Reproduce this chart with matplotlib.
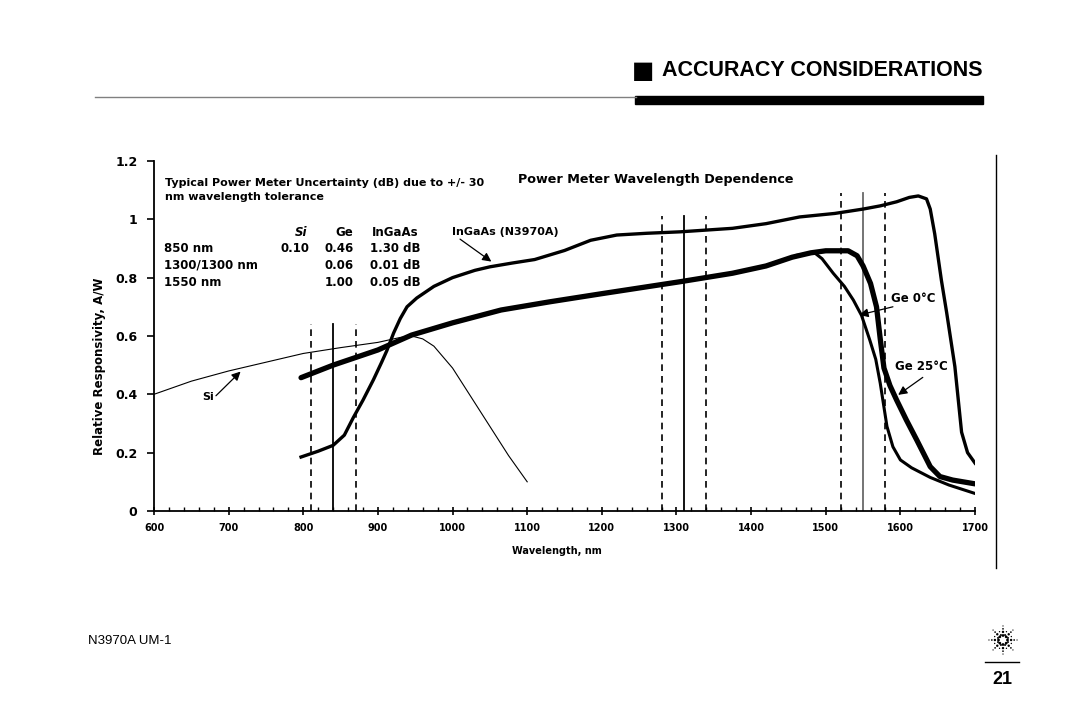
import matplotlib
matplotlib.use("Agg")
import matplotlib.pyplot as plt
from matplotlib.lines import Line2D
from matplotlib.patches import Rectangle
from matplotlib.ticker import MultipleLocator
import numpy as np

plt.rcParams['font.family'] = ['Liberation Sans', 'DejaVu Sans']
CH = 'DejaVu Sans'  # chart text: wide heavy face like the scan

# --- data ---
si_wl = [600, 650, 700, 750, 800, 850, 900, 930, 945, 960, 975, 1000, 1025, 1050, 1075, 1100]
si_resp = [0.40, 0.445, 0.48, 0.51, 0.54, 0.56, 0.578, 0.595, 0.60, 0.59, 0.565, 0.49, 0.39, 0.29, 0.19, 0.10]

ge25_wl = [797, 840, 900, 945, 1000, 1065, 1130, 1200, 1305, 1375, 1420, 1455, 1480, 1500, 1530,
           1542, 1550, 1560, 1568, 1573, 1578, 1586, 1595, 1608, 1622, 1640, 1653, 1670, 1700]
ge25_resp = [0.457, 0.50, 0.552, 0.603, 0.645, 0.689, 0.717, 0.745, 0.786, 0.815, 0.84, 0.87, 0.885,
             0.892, 0.892, 0.875, 0.84, 0.78, 0.70, 0.59, 0.49, 0.43, 0.38, 0.312, 0.243, 0.152,
             0.118, 0.106, 0.093]

ge0_wl = [1460, 1485, 1495, 1510, 1525, 1537, 1548, 1559, 1567, 1573, 1582, 1590, 1600, 1615, 1640,
          1665, 1700]
ge0_resp = [0.876, 0.885, 0.865, 0.815, 0.77, 0.723, 0.67, 0.586, 0.52, 0.438, 0.29, 0.22, 0.175,
            0.148, 0.115, 0.089, 0.06]

ingaas_wl = [797, 820, 840, 855, 867, 880, 894, 905, 912, 921, 930, 939, 952, 975, 1000, 1030, 1050,
             1080, 1110, 1150, 1185, 1220, 1260, 1305, 1375, 1420, 1465, 1512, 1550, 1573, 1595, 1612,
             1624, 1635, 1640, 1646, 1655, 1662, 1673, 1682, 1690, 1700]
ingaas_resp = [0.185, 0.205, 0.225, 0.26, 0.32, 0.38, 0.45, 0.51, 0.55, 0.61, 0.66, 0.70, 0.73, 0.77,
               0.80, 0.825, 0.837, 0.85, 0.862, 0.893, 0.928, 0.946, 0.952, 0.957, 0.969, 0.985,
               1.008, 1.02, 1.035, 1.046, 1.06, 1.075, 1.08, 1.07, 1.035, 0.95, 0.79, 0.68,
               0.495, 0.27, 0.20, 0.164]

# +/- 30 nm markers around 840, 1310, 1550
center_wl = [840, 1310, 1550]
marker_top = [0.64, 1.01, 1.09]
tolerance = 30

table_rows = ["850 nm", "1300/1300 nm", "1550 nm"]
table_si = ["0.10", "", ""]
table_ge = ["0.46", "0.06", "1.00"]
table_ingaas = ["1.30 dB", "0.01 dB", "0.05 dB"]

fig = plt.figure(figsize=(10.8, 7.09), dpi=100)
ax = fig.add_axes([0.1426, 0.2793, 0.7602, 0.4937])
ax.set_xlim(600, 1700)
ax.set_ylim(0, 1.2)

for c, top in zip(center_wl, marker_top):
    ax.plot([c - tolerance] * 2, [0, top], color='black', lw=1.2, ls=(0, (4, 3)))
    ax.plot([c + tolerance] * 2, [0, top], color='black', lw=1.2, ls=(0, (4, 3)))
    ax.plot([c] * 2, [0, top], color='dimgray' if c == 1550 else 'black', lw=1.3)

ax.plot(si_wl, si_resp, color='black', lw=0.8)
ax.plot(ingaas_wl, ingaas_resp, color='black', lw=2.4, solid_joinstyle='round')
ax.plot(ge0_wl, ge0_resp, color='black', lw=2.2, solid_joinstyle='round')
ax.plot(ge25_wl, ge25_resp, color='black', lw=3.8, solid_joinstyle='round', solid_capstyle='round')

for s in ['top', 'right']:
    ax.spines[s].set_visible(False)
ax.spines['left'].set_linewidth(1.3)
ax.spines['bottom'].set_linewidth(1.3)

ax.xaxis.set_major_locator(MultipleLocator(100))
ax.xaxis.set_minor_locator(MultipleLocator(20))
ax.set_yticks([0, 0.2, 0.4, 0.6, 0.8, 1.0, 1.2])
ax.set_yticklabels(["0", "0.2", "0.4", "0.6", "0.8", "1", "1.2"])
ax.tick_params(axis='x', which='major', direction='inout', length=6, width=1.2, labelsize=7, pad=6)
ax.tick_params(axis='x', which='minor', direction='in', length=3, width=1)
ax.tick_params(axis='y', which='major', direction='out', length=5, width=1.2, labelsize=9, pad=7)
for lab in ax.get_xticklabels() + ax.get_yticklabels():
    lab.set_fontweight('bold')
    lab.set_family(CH)

ax.set_xlabel("Wavelength, nm", fontsize=7, fontweight='bold', family=CH)
ax.xaxis.set_label_coords(0.491, -0.10)
ax.set_ylabel("Relative Responsivity, A/W", fontsize=8.5, fontweight='bold', family=CH)
ax.yaxis.set_label_coords(-0.058, 0.414)

fs = 8.0
tfs = 8.5
ax.text(1088, 1.135, "Power Meter Wavelength Dependence", fontsize=9.2, fontweight='bold',
        family=CH, ha='left', va='center')
ax.text(615, 1.10, "Typical Power Meter Uncertainty (dB) due to +/- 30\nnm wavelength tolerance",
        fontsize=fs, fontweight='bold', family=CH, ha='left', va='center', linespacing=1.5)

hdr_y = 0.956
ax.text(806, hdr_y, "Si", fontsize=tfs, fontweight='bold', style='italic', family=CH, ha='right', va='center')
ax.text(867, hdr_y, "Ge", fontsize=tfs, fontweight='bold', family=CH, ha='right', va='center')
ax.text(892, hdr_y, "InGaAs", fontsize=tfs, fontweight='bold', family=CH, ha='left', va='center')
for i, row in enumerate(table_rows):
    y = 0.90 - i * 0.058
    ax.text(613, y, row, fontsize=tfs, fontweight='bold', family=CH, ha='left', va='center')
    ax.text(808, y, table_si[i], fontsize=tfs, fontweight='bold', family=CH, ha='right', va='center')
    ax.text(867, y, table_ge[i], fontsize=tfs, fontweight='bold', family=CH, ha='right', va='center')
    ax.text(890, y, table_ingaas[i], fontsize=tfs, fontweight='bold', family=CH, ha='left', va='center')

arrow = dict(arrowstyle='-|>', color='black', lw=0.9, mutation_scale=13, shrinkA=0, shrinkB=0)
ax.text(999, 0.956, "InGaAs (N3970A)", fontsize=8, fontweight='bold', family=CH, ha='left', va='center')
ax.annotate("", xy=(1052, 0.855), xytext=(1010, 0.932), arrowprops=arrow)
ax.text(672, 0.39, "Si", fontsize=fs, fontweight='bold', family=CH, ha='center', va='center')
ax.annotate("", xy=(716, 0.478), xytext=(683, 0.395), arrowprops=arrow)
ax.text(1617, 0.73, "Ge 0°C", fontsize=8.5, fontweight='bold', family=CH, ha='center', va='center')
ax.annotate("", xy=(1545, 0.672), xytext=(1590, 0.70), arrowprops=arrow)
ax.text(1628, 0.494, "Ge 25°C", fontsize=8.5, fontweight='bold', family=CH, ha='center', va='center')
ax.annotate("", xy=(1597, 0.398), xytext=(1630, 0.458), arrowprops=arrow)

# --- page decoration ---
W, H = 1080, 709
def fx(px):
    return px / W
def fy(py):
    return 1 - py / H

fig.text(fx(632), fy(71), "■", fontsize=17, family='DejaVu Sans', ha='left', va='center')
fig.text(fx(982), fy(71), "ACCURACY CONSIDERATIONS", fontsize=15.5, fontweight='bold',
         ha='right', va='center')
fig.add_artist(Line2D([fx(95), fx(636)], [fy(96.5)] * 2, color='gray', lw=1))
fig.add_artist(Rectangle((fx(635), fy(104)), fx(983) - fx(635), fy(96) - fy(104),
                         color='black', transform=fig.transFigure))
fig.add_artist(Line2D([fx(996)] * 2, [fy(155), fy(568)], color='black', lw=1))

fig.text(fx(88), fy(641), "N3970A UM-1", fontsize=9.5, ha='left', va='center')
fig.add_artist(Line2D([fx(985), fx(1019)], [fy(662)] * 2, color='black', lw=1))
fig.text(fx(1002), fy(679), "21", fontsize=13, fontweight='bold', ha='center', va='center')

# Agilent spark logo
lax = fig.add_axes([fx(985), fy(658), fx(36), 36 / H])
lax.set_xlim(-1, 1)
lax.set_ylim(-1, 1)
lax.axis('off')
for ang in np.arange(0, 360, 45):
    r = np.array([0.25, 0.45, 0.62, 0.78])
    lax.scatter(r * np.cos(np.radians(ang)), r * np.sin(np.radians(ang)),
                s=[4, 3, 1.5, 0.8], color='black', lw=0)
for ang in np.arange(22.5, 360, 45):
    r = np.array([0.3, 0.5])
    lax.scatter(r * np.cos(np.radians(ang)), r * np.sin(np.radians(ang)),
                s=[2, 1], color='black', lw=0)

fig.savefig("out.png", dpi=100)
